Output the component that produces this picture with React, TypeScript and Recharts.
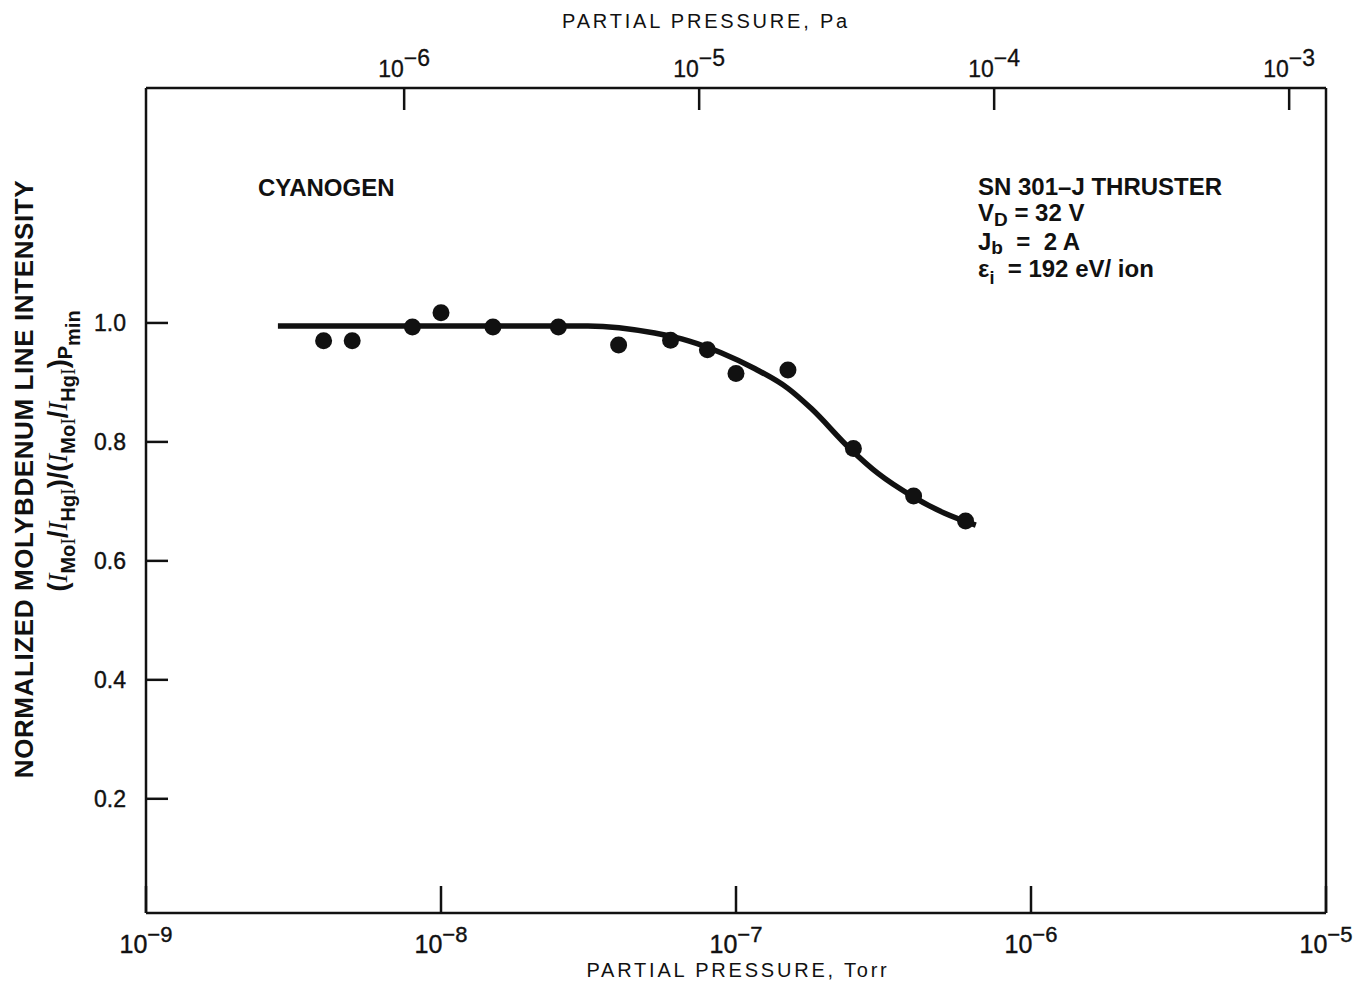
import React from 'react'
import {
  ComposedChart,
  Line,
  Scatter,
  XAxis,
  YAxis,
  Customized,
} from 'recharts'

// measured points: partial pressure (Torr) and normalized Mo I line intensity
const pressureTorr = [4e-9, 5e-9, 8e-9, 1e-8, 1.5e-8, 2.5e-8, 4e-8, 6e-8, 8e-8, 1e-7, 1.5e-7, 2.5e-7, 4e-7, 6e-7]
const intensity = [0.97, 0.97, 0.993, 1.017, 0.993, 0.993, 0.963, 0.971, 0.955, 0.915, 0.921, 0.789, 0.709, 0.667]

// faired curve through the data
const fitTorr = [2.8e-9, 1e-8, 3.15e-8, 5.3e-8, 6.9e-8, 8.9e-8, 1.16e-7, 1.5e-7, 1.8e-7, 2.43e-7, 3.03e-7, 3.95e-7, 5.1e-7, 6.5e-7]
const fitIntensity = [0.995, 0.995, 0.995, 0.983, 0.97, 0.95, 0.923, 0.89, 0.856, 0.789, 0.747, 0.709, 0.68, 0.66]

const torrTicks = [1e-9, 1e-8, 1e-7, 1e-6, 1e-5]
const paTicks = [1e-6, 1e-5, 1e-4, 1e-3]
const intensityTicks = [0.2, 0.4, 0.6, 0.8, 1.0]

const TORR_TO_PA = 133.322
const torrDomain = [1e-9, 1e-5]
const paDomain = [torrDomain[0] * TORR_TO_PA, torrDomain[1] * TORR_TO_PA]
const yDomain = [0.008, 1.395]

const points = pressureTorr.map((p, i) => ({ p, v: intensity[i] }))
const pointsPa = pressureTorr.map((p, i) => ({ pa: p * TORR_TO_PA, v: intensity[i] }))
const fit = fitTorr.map((p, i) => ({ p, v: fitIntensity[i] }))

const FONT = '"Liberation Sans", Arial, sans-serif'
const INK = '#111'
const NB = '\u00a0'

const exponent = (v: number) => Math.round(Math.log10(v))

const BottomTick = ({ x, y, payload }: any) => (
  <g>
    <line x1={x} x2={x} y1={y} y2={y - 27} stroke={INK} strokeWidth={2.5} />
    <text x={x} y={y + 40} textAnchor="middle" fontSize={25} fontFamily={FONT} fill={INK} stroke={INK} strokeWidth={0.4}>
      10
      <tspan dy={-11} fontSize={22}>{'\u2212' + Math.abs(exponent(payload.value))}</tspan>
    </text>
  </g>
)

const TopTick = ({ x, y, payload }: any) => (
  <g>
    <line x1={x} x2={x} y1={y} y2={y + 22} stroke={INK} strokeWidth={2.5} />
    <text x={x} y={y - 11} textAnchor="middle" fontSize={23} fontFamily={FONT} fill={INK} stroke={INK} strokeWidth={0.3}>
      10
      <tspan dy={-11} fontSize={23}>{'\u2212' + Math.abs(exponent(payload.value))}</tspan>
    </text>
  </g>
)

const LeftTick = ({ x, y, payload }: any) => (
  <g>
    <line x1={x} x2={x + 22} y1={y} y2={y} stroke={INK} strokeWidth={2.5} />
    <text x={x - 20} y={y + 8.5} textAnchor="end" fontSize={23} fontFamily={FONT} fill={INK} stroke={INK} strokeWidth={0.4}>
      {payload.value.toFixed(1)}
    </text>
  </g>
)

const Dot = (props: any) => <circle cx={props.cx} cy={props.cy} r={8.5} fill={INK} />
const NoDot = () => <g />

const serifI = { fontFamily: '"Liberation Serif", "DejaVu Serif", serif', fontStyle: 'italic' as const, fontWeight: 'normal' as const }
const romanI = { fontFamily: '"Liberation Serif", "DejaVu Serif", serif', fontWeight: 'normal' as const }

const Annotations = () => (
  <g fontFamily={FONT} fill={INK}>
    <text x={706} y={28} textAnchor="middle" fontSize={20} letterSpacing={2.8}>
      PARTIAL PRESSURE, Pa
    </text>
    <text x={738} y={977} textAnchor="middle" fontSize={20} letterSpacing={2.8}>
      PARTIAL PRESSURE, Torr
    </text>

    <text x={33} y={479} transform="rotate(-90 33 479)" textAnchor="middle" fontSize={26} fontWeight="bold" letterSpacing={0.6}>
      NORMALIZED MOLYBDENUM LINE INTENSITY
    </text>
    <text x={67} y={451} transform="rotate(-90 67 451)" textAnchor="middle" fontSize={27} fontWeight="bold">
      (<tspan {...serifI}>I</tspan>
      <tspan dy={8} fontSize={20}>Mo<tspan {...romanI}>I</tspan></tspan>
      <tspan dy={-8}>/</tspan>
      <tspan {...serifI}>I</tspan>
      <tspan dy={8} fontSize={20}>Hg<tspan {...romanI}>I</tspan></tspan>
      <tspan dy={-8}>)/(</tspan>
      <tspan {...serifI}>I</tspan>
      <tspan dy={8} fontSize={20}>Mo<tspan {...romanI}>I</tspan></tspan>
      <tspan dy={-8}>/</tspan>
      <tspan {...serifI}>I</tspan>
      <tspan dy={8} fontSize={20}>Hg<tspan {...romanI}>I</tspan></tspan>
      <tspan dy={-8}>)</tspan>
      <tspan dy={5} fontSize={20}>P</tspan>
      <tspan dy={8} fontSize={20}>min</tspan>
    </text>

    <g fontWeight="bold" fontSize={24}>
      <text x={258} y={196}>CYANOGEN</text>
      <text x={978} y={195}>SN 301{'\u2013'}J THRUSTER</text>
      <text x={978} y={221}>
        V<tspan dy={5} fontSize={19}>D</tspan>
        <tspan dy={-5}>{' = 32 V'}</tspan>
      </text>
      <text x={978} y={250}>
        J<tspan dy={4} fontSize={19}>b</tspan>
        <tspan dy={-4}>{NB + ' = ' + NB + '2 A'}</tspan>
      </text>
      <text x={978} y={277}>
        {'\u03b5'}<tspan dy={7} fontSize={18}>i</tspan>
        <tspan dy={-7}>{NB + ' = 192 eV/ ion'}</tspan>
      </text>
    </g>
  </g>
)

export default function App() {
  const axisLine = { stroke: INK, strokeWidth: 2.5 }
  return (
    <div style={{ position: 'absolute', left: 0, top: 0, background: '#fff' }}>
      <ComposedChart
        width={1363}
        height={993}
        margin={{ top: 10, right: 35, bottom: 10, left: 10 }}
      >
        <XAxis
          xAxisId="bottom"
          dataKey="p"
          type="number"
          scale="log"
          domain={torrDomain}
          ticks={torrTicks}
          interval={0}
          allowDataOverflow
          height={70}
          axisLine={axisLine}
          tickLine={false}
          tickSize={0}
          tickMargin={0}
          tick={<BottomTick />}
        />
        <XAxis
          xAxisId="top"
          dataKey="pa"
          orientation="top"
          type="number"
          scale="log"
          domain={paDomain}
          ticks={paTicks}
          interval={0}
          allowDataOverflow
          height={78}
          axisLine={axisLine}
          tickLine={false}
          tickSize={0}
          tickMargin={0}
          tick={<TopTick />}
        />
        <YAxis
          yAxisId="left"
          type="number"
          domain={yDomain}
          ticks={intensityTicks}
          interval={0}
          allowDataOverflow
          width={136}
          axisLine={axisLine}
          tickLine={false}
          tickSize={0}
          tickMargin={0}
          tick={<LeftTick />}
        />
        <YAxis
          yAxisId="right"
          orientation="right"
          type="number"
          domain={yDomain}
          ticks={intensityTicks}
          allowDataOverflow
          width={2}
          axisLine={axisLine}
          tickLine={false}
          tick={false}
        />
        <Line
          xAxisId="bottom"
          yAxisId="left"
          data={fit}
          dataKey="v"
          type="monotone"
          stroke={INK}
          strokeWidth={5.5}
          dot={false}
          activeDot={false}
          isAnimationActive={false}
        />
        <Scatter
          xAxisId="bottom"
          yAxisId="left"
          data={points}
          dataKey="v"
          fill={INK}
          shape={<Dot />}
          isAnimationActive={false}
        />
        {/* same points on the Pa / right axes, drawn invisibly so those axes render */}
        <Scatter
          xAxisId="top"
          yAxisId="right"
          data={pointsPa}
          dataKey="v"
          shape={<NoDot />}
          isAnimationActive={false}
        />
        <Customized component={Annotations} />
      </ComposedChart>
    </div>
  )
}
